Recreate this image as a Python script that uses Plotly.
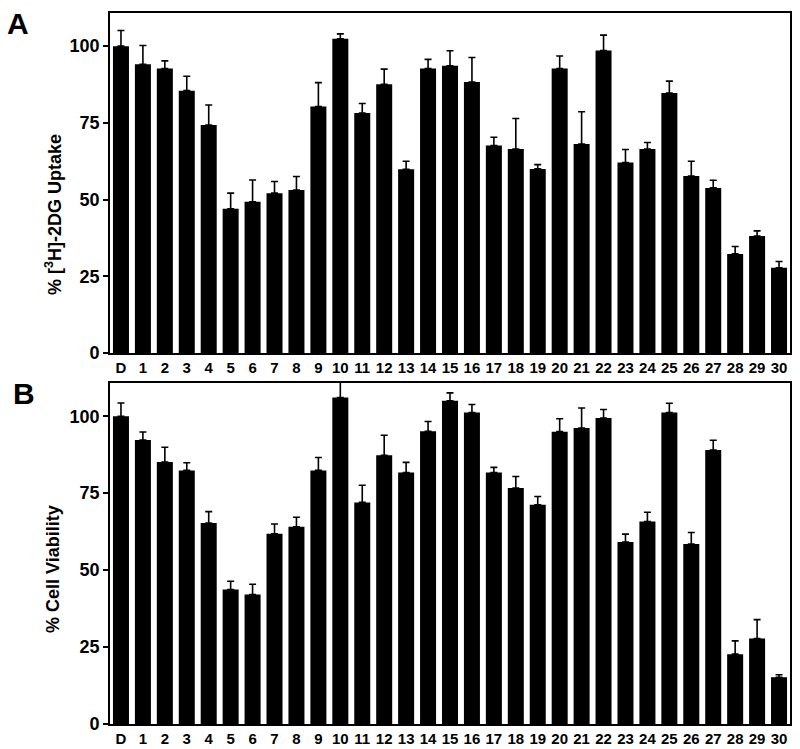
import plotly.graph_objects as go

categories = ["D"] + [str(i) for i in range(1, 31)]

uptake = [100, 94.1, 92.7, 85.5, 74.3, 47.0, 49.3, 52.1, 53.1, 80.3, 102.4, 78.2, 87.6,
          59.9, 92.7, 93.6, 88.3, 67.6, 66.5, 60.0, 92.7, 68.1, 98.6, 62.1, 66.5, 84.7,
          57.7, 53.8, 32.3, 38.1, 27.8]
uptake_err = [5.1, 6.1, 2.5, 4.7, 6.5, 5.1, 7.1, 3.8, 4.4, 7.8, 1.6, 3.1, 4.9,
              2.6, 3.0, 4.9, 8.0, 2.7, 9.9, 1.4, 4.1, 10.5, 5.0, 4.2, 2.1, 3.9,
              4.8, 2.5, 2.4, 1.7, 2.0]

viability = [100, 92.3, 85.1, 82.4, 65.3, 43.7, 42.1, 61.8, 64.1, 82.4, 106.1, 72.0, 87.3,
             81.7, 95.1, 105.0, 101.2, 81.7, 76.7, 71.2, 95.0, 96.2, 99.4, 59.1, 65.8, 101.2,
             58.5, 89.0, 22.7, 27.8, 15.2]
viability_err = [4.3, 2.6, 4.8, 2.5, 3.7, 2.7, 3.3, 3.2, 3.1, 4.2, 5.0, 5.6, 6.5,
                 3.3, 3.2, 2.6, 2.6, 1.7, 3.7, 2.7, 4.2, 6.5, 2.8, 2.6, 3.0, 3.0,
                 3.7, 3.2, 4.3, 6.1, 0.8]

y_ticks = [0, 25, 50, 75, 100]

FONT = "Liberation Sans, Arial, Helvetica, sans-serif"

fig = go.Figure()

def add_bars(vals, errs, xa, ya):
    fig.add_trace(go.Bar(
        x=categories, y=vals, xaxis=xa, yaxis=ya,
        marker=dict(color="black", line=dict(width=0)),
        error_y=dict(type="data", symmetric=False, array=errs,
                     arrayminus=[0] * len(errs), color="black",
                     thickness=1.6, width=3.5),
        showlegend=False, cliponaxis=True,
    ))

add_bars(uptake, uptake_err, "x", "y")
add_bars(viability, viability_err, "x2", "y2")

top_dom = [(724 - 353) / 711, 1.0]
bot_dom = [0.0, (724 - 383) / 711]

xcommon = dict(type="category", range=[-0.5, 30.5], showline=True, linecolor="black",
               linewidth=1.6, mirror=True, ticks="", showgrid=False, zeroline=False,
               tickfont=dict(family=FONT, size=15, color="black", weight="bold"),
               tickangle=0, automargin=False)
ycommon = dict(range=[0, 110.8], tickvals=y_ticks, showline=True, linecolor="black",
               linewidth=1.6, mirror=True, ticks="outside", ticklen=5, tickwidth=1.6,
               tickcolor="black", showgrid=False, zeroline=False, automargin=False,
               tickfont=dict(family=FONT, size=18, color="black", weight="bold"))

fig.update_layout(
    width=800, height=749,
    margin=dict(l=110, r=10, t=13, b=25),
    paper_bgcolor="white", plot_bgcolor="white",
    bargap=0.27,
    xaxis=dict(**xcommon, domain=[0, 1], anchor="y"),
    yaxis=dict(**ycommon, domain=top_dom, anchor="x"),
    xaxis2=dict(**xcommon, domain=[0, 1], anchor="y2"),
    yaxis2=dict(**ycommon, domain=bot_dom, anchor="x2"),
    font=dict(family=FONT, color="black"),
)

def paper_y(px):
    return (724 - px) / 711

def paper_x(px):
    return (px - 110) / 680

annots = [
    dict(text="<b>A</b>", x=paper_x(18), y=paper_y(24), size=30),
    dict(text="<b>B</b>", x=paper_x(24), y=paper_y(393), size=30),
    dict(text="<b>% [<sup>3</sup>H]-2DG Uptake</b>", x=paper_x(53), y=paper_y(215),
         textangle=-90, size=18),
    dict(text="<b>% Cell Viability</b>", x=paper_x(53), y=paper_y(569),
         textangle=-90, size=18),
]
for a in annots:
    size = a.pop("size")
    fig.add_annotation(xref="paper", yref="paper", showarrow=False,
                       xanchor="center", yanchor="middle",
                       font=dict(family=FONT, color="black", size=size), **a)

fig.write_html("out.html",
               config={"displayModeBar": False},
               post_script="document.body.style.margin='0px';document.body.style.overflow='hidden';")
